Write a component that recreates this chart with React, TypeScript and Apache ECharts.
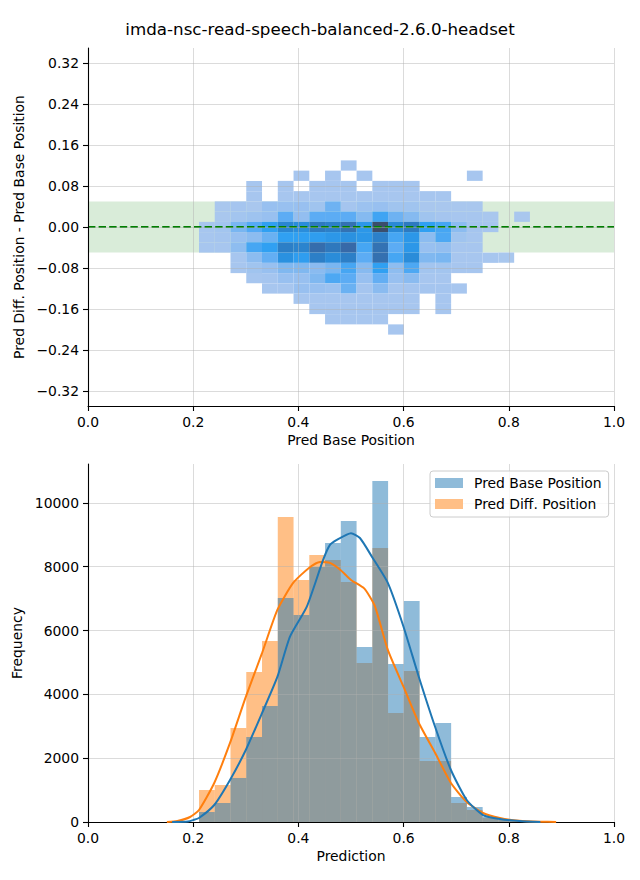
import React, { useEffect, useRef } from "react";
import * as echarts from "echarts";

const FONT = "DejaVu Sans";
const TITLE = "imda-nsc-read-speech-balanced-2.6.0-headset";
const TOP_X_LABEL = "Pred Base Position";
const TOP_Y_LABEL = "Pred Diff. Position - Pred Base Position";
const BOTTOM_X_LABEL = "Prediction";
const BOTTOM_Y_LABEL = "Frequency";
const SERIES_NAMES = ["Pred Base Position", "Pred Diff. Position"];

// shared histogram bins (x)
const BIN_START = 0.211;
const BIN_WIDTH = 0.02996;
const BIN_COUNT = 21;

// 2D histogram (y bins)
const Y_BIN_HEIGHT = 0.02;
const Y_BIN_CENTERS = [0.12, 0.1, 0.08, 0.06, 0.04, 0.02, 0, -0.02, -0.04, -0.06, -0.08, -0.1, -0.12, -0.14, -0.16, -0.18, -0.2];
const HEAT_COUNTS = [
  [0, 0, 0, 0, 0, 0, 0, 0, 0, 3, 0, 0, 0, 0, 0, 0, 0, 0, 0, 0, 0],
  [0, 0, 0, 0, 0, 0, 3, 0, 3, 0, 3, 0, 0, 0, 0, 0, 0, 3, 0, 0, 0],
  [0, 0, 0, 3, 0, 3, 0, 3, 3, 3, 0, 3, 3, 3, 0, 0, 0, 0, 0, 0, 0],
  [0, 0, 0, 3, 0, 3, 3, 3, 3, 3, 3, 3, 3, 3, 3, 3, 0, 0, 0, 0, 0],
  [0, 2, 4, 2, 10, 10, 10, 6, 25, 4, 8, 10, 6, 6, 2, 2, 2, 2, 0, 0, 0],
  [0, 2, 5, 7, 10, 30, 12, 30, 30, 30, 18, 38, 25, 18, 6, 4, 3, 3, 2, 0, 2],
  [3, 5, 22, 32, 42, 60, 55, 70, 65, 78, 48, 100, 58, 70, 42, 36, 15, 4, 3, 0, 0],
  [3, 4, 10, 15, 26, 42, 42, 44, 48, 52, 48, 65, 36, 48, 15, 34, 6, 3, 0, 0, 0],
  [3, 3, 14, 36, 42, 66, 62, 82, 72, 85, 36, 78, 30, 48, 10, 12, 3, 3, 0, 0, 0],
  [0, 0, 3, 15, 28, 52, 44, 66, 56, 66, 30, 80, 36, 56, 20, 22, 3, 3, 3, 2, 0],
  [0, 0, 3, 6, 10, 20, 20, 16, 22, 36, 17, 42, 14, 34, 5, 5, 3, 3, 0, 0, 0],
  [0, 0, 0, 3, 4, 10, 10, 20, 34, 30, 10, 28, 10, 16, 3, 3, 0, 0, 0, 0, 0],
  [0, 0, 0, 0, 3, 3, 10, 10, 8, 26, 4, 16, 3, 4, 4, 4, 3, 0, 0, 0, 0],
  [0, 0, 0, 0, 0, 0, 3, 3, 3, 3, 3, 3, 3, 3, 0, 3, 0, 0, 0, 0, 0],
  [0, 0, 0, 0, 0, 0, 0, 3, 3, 3, 3, 3, 3, 3, 0, 3, 0, 0, 0, 0, 0],
  [0, 0, 0, 0, 0, 0, 0, 0, 3, 3, 3, 3, 0, 0, 0, 0, 0, 0, 0, 0, 0],
  [0, 0, 0, 0, 0, 0, 0, 0, 0, 0, 0, 0, 3, 0, 0, 0, 0, 0, 0, 0, 0],
];
const BAND_LOW = -0.05;
const BAND_HIGH = 0.05;
const TOP_Y_TICKS = [-0.32, -0.24, -0.16, -0.08, 0, 0.08, 0.16, 0.24, 0.32];

// 1D histograms
const BASE_COUNTS = [313, 596, 1380, 2665, 3637, 7022, 6490, 7994, 8747, 9437, 5486, 10690, 4953, 6928, 2665, 3104, 784, 470, 160, 70, 40];
const DIFF_COUNTS = [1003, 1160, 2947, 4700, 5674, 9562, 7587, 8370, 8214, 7524, 4985, 8590, 3417, 4734, 1912, 1912, 596, 376, 130, 60, 30];
const BASE_KDE = [
  [0.16, 0], [0.19, 15], [0.2, 60], [0.211, 125], [0.24, 533], [0.27, 1317], [0.3, 2257], [0.331, 3417],
  [0.36, 4546], [0.384, 5810], [0.416, 6750], [0.447, 8214], [0.46, 8684], [0.473, 8841], [0.5, 9050],
  [0.517, 8900], [0.54, 8308], [0.57, 7493], [0.6, 6113], [0.629, 4546], [0.66, 2978], [0.69, 1630],
  [0.72, 690], [0.751, 219], [0.783, 94], [0.82, 30], [0.86, 0],
];
const DIFF_KDE = [
  [0.15, 0], [0.17, 30], [0.194, 157], [0.211, 376], [0.24, 1223], [0.27, 2477], [0.3, 3919], [0.331, 5298],
  [0.36, 6646], [0.39, 7493], [0.42, 7963], [0.441, 8151], [0.46, 8120], [0.48, 7900], [0.5, 7587],
  [0.525, 7320], [0.545, 6780], [0.57, 5392], [0.6, 4232], [0.629, 3104], [0.66, 2163], [0.69, 1223],
  [0.72, 627], [0.751, 282], [0.783, 125], [0.82, 40], [0.86, 10], [0.89, 0],
];
const BOTTOM_Y_MAX = 11220;
const BOTTOM_Y_TICKS = [0, 2000, 4000, 6000, 8000, 10000];
const TOP_Y_LIMIT = 0.3493;

// colour ramp for the 2D histogram
const RAMP: [number, string][] = [
  [0, "#adc9ee"], [0.1, "#98c0f0"], [0.2, "#80b8f0"], [0.3, "#5cacf4"], [0.42, "#30a0f2"],
  [0.5, "#2a94e4"], [0.6, "#2a86d2"], [0.7, "#2e7ac0"], [0.8, "#3470b0"], [0.9, "#3a62a0"], [1, "#3b4e6c"],
];

function hexToRgb(h: string) {
  const n = parseInt(h.slice(1), 16);
  return [(n >> 16) & 255, (n >> 8) & 255, n & 255];
}
function rampColor(t: number) {
  t = Math.max(0, Math.min(1, t));
  for (let i = 1; i < RAMP.length; i++) {
    if (t <= RAMP[i][0]) {
      const [t0, c0] = RAMP[i - 1];
      const [t1, c1] = RAMP[i];
      const f = (t - t0) / (t1 - t0);
      const a = hexToRgb(c0);
      const b = hexToRgb(c1);
      const c = a.map((v, k) => Math.round(v + (b[k] - v) * f));
      return `rgb(${c[0]},${c[1]},${c[2]})`;
    }
  }
  return RAMP[RAMP.length - 1][1];
}

function fmtSigned(v: number, d: number) {
  if (Math.abs(v) < 1e-9) return (0).toFixed(d);
  return (v < 0 ? "\u2212" : "") + Math.abs(v).toFixed(d);
}

const AXIS_FONT = { color: "#000", fontSize: 13.9, fontFamily: FONT };
const TICK_STYLE = { color: "#000", width: 1.1 };

function baseAxis(extra: any) {
  return {
    type: "value",
    nameLocation: "middle",
    nameTextStyle: { ...AXIS_FONT },
    axisLine: { show: true, onZero: false, lineStyle: { color: "#000", width: 1.1 } },
    axisTick: { show: true, inside: false, length: 5, lineStyle: TICK_STYLE },
    axisLabel: { ...AXIS_FONT, margin: 9 },
    splitLine: { show: true, lineStyle: { color: "rgba(176,176,176,0.45)", width: 1 } },
    z: 10,
    ...extra,
  };
}

function buildOption() {
  const maxHeat = Math.max(...HEAT_COUNTS.flat());
  const heatData: number[][] = [];
  HEAT_COUNTS.forEach((row, r) => {
    row.forEach((cnt, c) => {
      if (cnt > 0) {
        const x0 = BIN_START + c * BIN_WIDTH;
        const y = Y_BIN_CENTERS[r];
        heatData.push([x0, x0 + BIN_WIDTH, y - Y_BIN_HEIGHT / 2, y + Y_BIN_HEIGHT / 2, cnt]);
      }
    });
  });
  const histData = (counts: number[]) =>
    counts.slice(0, BIN_COUNT).map((cnt, i) => {
      const x0 = BIN_START + i * BIN_WIDTH;
      return [x0, x0 + BIN_WIDTH, cnt];
    });
  const histRender = (fill: string) => (params: any, api: any) => {
    const p0 = api.coord([api.value(0), api.value(2)]);
    const p1 = api.coord([api.value(1), 0]);
    return {
      type: "rect",
      shape: { x: p0[0], y: p0[1], width: p1[0] - p0[0], height: p1[1] - p0[1] },
      style: { fill, opacity: 0.5 },
    };
  };

  return {
    animation: false,
    backgroundColor: "#fff",
    title: {
      text: TITLE,
      left: "center",
      top: 15,
      textStyle: { color: "#000", fontSize: 16.7, fontWeight: "normal", fontFamily: FONT },
    },
    legend: {
      orient: "vertical",
      left: 430,
      top: 471,
      icon: "rect",
      itemWidth: 28,
      itemHeight: 10,
      itemGap: 5,
      padding: [4, 7, 5, 5],
      borderColor: "#cccccc",
      borderWidth: 1,
      borderRadius: 3,
      backgroundColor: "rgba(255,255,255,0.8)",
      textStyle: { ...AXIS_FONT, lineHeight: 16, padding: [0, 0, 0, 6] },
      data: [
        { name: SERIES_NAMES[0], itemStyle: { color: "#8fbbd9", opacity: 1 } },
        { name: SERIES_NAMES[1], itemStyle: { color: "#ffbf86", opacity: 1 } },
      ],
      selectedMode: false,
      z: 20,
    },
    grid: [
      { left: 88, top: 48, width: 526, height: 358 },
      { left: 88, top: 464, width: 526, height: 358 },
    ],
    xAxis: [
      baseAxis({
        gridIndex: 0, min: 0, max: 1, interval: 0.2, name: TOP_X_LABEL, nameGap: 27,
        axisLabel: { ...AXIS_FONT, margin: 9, formatter: (v: number) => v.toFixed(1) },
      }),
      baseAxis({
        gridIndex: 1, min: 0, max: 1, interval: 0.2, name: BOTTOM_X_LABEL, nameGap: 27,
        axisLabel: { ...AXIS_FONT, margin: 9, formatter: (v: number) => v.toFixed(1) },
      }),
    ],
    yAxis: [
      baseAxis({
        gridIndex: 0, min: -TOP_Y_LIMIT, max: TOP_Y_LIMIT, name: TOP_Y_LABEL, nameGap: 58,
        axisTick: { show: true, inside: false, length: 5, customValues: TOP_Y_TICKS, lineStyle: TICK_STYLE },
        axisLabel: { ...AXIS_FONT, margin: 9, customValues: TOP_Y_TICKS, formatter: (v: number) => fmtSigned(v, 2) },
      }),
      baseAxis({
        gridIndex: 1, min: 0, max: BOTTOM_Y_MAX, name: BOTTOM_Y_LABEL, nameGap: 58,
        axisTick: { show: true, inside: false, length: 5, customValues: BOTTOM_Y_TICKS, lineStyle: TICK_STYLE },
        axisLabel: { ...AXIS_FONT, margin: 9, customValues: BOTTOM_Y_TICKS, formatter: (v: number) => String(Math.round(v)) },
      }),
    ],
    series: [
      {
        name: "band",
        type: "line",
        xAxisIndex: 0,
        yAxisIndex: 0,
        data: [],
        z: 1,
        silent: true,
        markArea: {
          silent: true,
          itemStyle: { color: "rgba(0,128,0,0.15)" },
          data: [[{ yAxis: BAND_LOW }, { yAxis: BAND_HIGH }]],
        },
      },
      {
        name: "hist2d",
        type: "custom",
        xAxisIndex: 0,
        yAxisIndex: 0,
        z: 2,
        silent: true,
        encode: { x: [0, 1], y: [2, 3] },
        data: heatData,
        renderItem: (params: any, api: any) => {
          const p0 = api.coord([api.value(0), api.value(3)]);
          const p1 = api.coord([api.value(1), api.value(2)]);
          return {
            type: "rect",
            shape: { x: p0[0], y: p0[1], width: p1[0] - p0[0], height: p1[1] - p0[1] },
            style: { fill: rampColor(api.value(4) / maxHeat) },
          };
        },
      },
      {
        name: "zero",
        type: "line",
        xAxisIndex: 0,
        yAxisIndex: 0,
        data: [],
        z: 12,
        silent: true,
        markLine: {
          silent: true,
          symbol: ["none", "none"],
          label: { show: false },
          lineStyle: { color: "#008000", width: 2, type: [7.4, 3.2] },
          data: [{ yAxis: 0 }],
        },
      },
      {
        name: SERIES_NAMES[1],
        type: "custom",
        xAxisIndex: 1,
        yAxisIndex: 1,
        z: 2,
        silent: true,
        itemStyle: { color: "#ff7f0e" },
        encode: { x: [0, 1], y: 2 },
        data: histData(DIFF_COUNTS),
        renderItem: histRender("#ff7f0e"),
      },
      {
        name: SERIES_NAMES[0],
        type: "custom",
        xAxisIndex: 1,
        yAxisIndex: 1,
        z: 3,
        silent: true,
        itemStyle: { color: "#1f77b4" },
        encode: { x: [0, 1], y: 2 },
        data: histData(BASE_COUNTS),
        renderItem: histRender("#1f77b4"),
      },
      {
        name: "kde-diff",
        type: "line",
        xAxisIndex: 1,
        yAxisIndex: 1,
        z: 12,
        silent: true,
        showSymbol: false,
        smooth: 0.2,
        lineStyle: { color: "#ff7f0e", width: 2 },
        data: DIFF_KDE,
      },
      {
        name: "kde-base",
        type: "line",
        xAxisIndex: 1,
        yAxisIndex: 1,
        z: 12,
        silent: true,
        showSymbol: false,
        smooth: 0.2,
        lineStyle: { color: "#1f77b4", width: 2 },
        data: BASE_KDE,
      },
    ],
  };
}

export default function App() {
  const ref = useRef<HTMLDivElement>(null);
  useEffect(() => {
    if (!ref.current) return;
    const chart = echarts.init(ref.current, null, { renderer: "svg" });
    chart.setOption(buildOption() as any);
    return () => chart.dispose();
  }, []);
  return (
    <div
      ref={ref}
      style={{ position: "absolute", left: 0, top: 0, width: 640, height: 880, background: "#fff" }}
    />
  );
}
